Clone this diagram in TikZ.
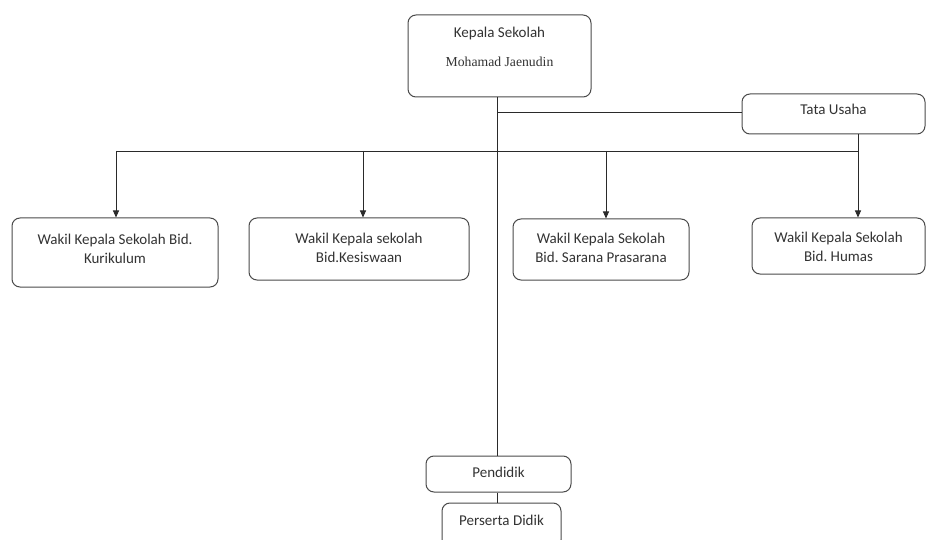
\documentclass[tikz,border=0pt]{standalone}
\usepackage{fontspec}
\setmainfont{Carlito}
\newfontfamily\serifname{Liberation Serif}
\usetikzlibrary{arrows.meta}
\definecolor{linec}{HTML}{2A2A2A}
\definecolor{boxc}{HTML}{4A4A4A}
\definecolor{txtc}{HTML}{333333}
\frenchspacing
\tikzset{
  orgbox/.style={draw=boxc, line width=1pt, rounded corners=8pt, minimum width=#1, inner sep=0pt},
  boxtext/.style={text=txtc, font=\fontsize{15}{19}\selectfont, align=center, inner sep=0pt, anchor=base},
  twoline/.style={boxtext, anchor=center},
  conn/.style={draw=linec, line width=0.9pt},
  arr/.style={conn, -{Triangle[length=7pt,width=6pt]}}
}
\begin{document}
\begin{tikzpicture}[x=1pt,y=-1pt]
\useasboundingbox (0,0) rectangle (926,540);
\clip (0,0) rectangle (926,540);
\fill[white] (0,0) rectangle (926,540);
% boxes
\node[orgbox=183pt, minimum height=82pt] (kepala) at (499.5,56) {};
\node[boxtext] (kepalaT) at (499.5,38) {Kepala Sekolah};
\node[boxtext, font=\serifname\fontsize{13.7}{16}\selectfont] (kepalaN) at (499.5,67) {Mohamad Jaenudin};
\node[orgbox=183pt, minimum height=40pt] (tata) at (833.5,114) {};
\node[boxtext] (tataT) at (833.5,115) {Tata Usaha};
\node[orgbox=206pt, minimum height=69pt] (kur) at (115,252.5) {};
\node[twoline] (kurT) at (115,248.5) {Wakil Kepala Sekolah Bid.\\Kurikulum};
\node[orgbox=220pt, minimum height=62pt] (kes) at (359,249) {};
\node[twoline] (kesT) at (359,247.5) {Wakil Kepala sekolah\\Bid.Kesiswaan};
\node[orgbox=176pt, minimum height=61pt] (sar) at (601,249.5) {};
\node[twoline] (sarT) at (601,248) {Wakil Kepala Sekolah\\Bid. Sarana Prasarana};
\node[orgbox=173pt, minimum height=56pt] (hum) at (838.5,246) {};
\node[twoline] (humT) at (838.5,246.5) {Wakil Kepala Sekolah\\Bid. Humas};
\node[orgbox=145pt, minimum height=36pt] (pend) at (498.5,474) {};
\node[boxtext] (pendT) at (498.5,477) {Pendidik};
\node[orgbox=119pt, minimum height=45pt] (pers) at (501.5,525.5) {};
\node[boxtext] (persT) at (501.5,525) {Perserta Didik};
% connectors
\coordinate (trunkTop) at (497,97);
\coordinate (trunkTata) at (497,112);
\coordinate (barL) at (116,151);
\coordinate (barR) at (858,151);
\coordinate (c2) at (363,151);
\coordinate (c3) at (606,151);
\draw[conn] (trunkTop) -- (trunkTop |- pend.north);
\draw[conn] (trunkTata) -- (trunkTata -| tata.west);
\draw[conn] (barR |- tata.south) -- (barR);
\draw[conn] (barL) -- (barR);
\draw[conn] (trunkTop |- pend.south) -- (trunkTop |- pers.north);
\draw[arr] (barL) -- (barL |- kur.north);
\draw[arr] (c2) -- (c2 |- kes.north);
\draw[arr] (c3) -- (c3 |- sar.north);
\draw[arr] (barR) -- (barR |- hum.north);
\end{tikzpicture}
\end{document}
